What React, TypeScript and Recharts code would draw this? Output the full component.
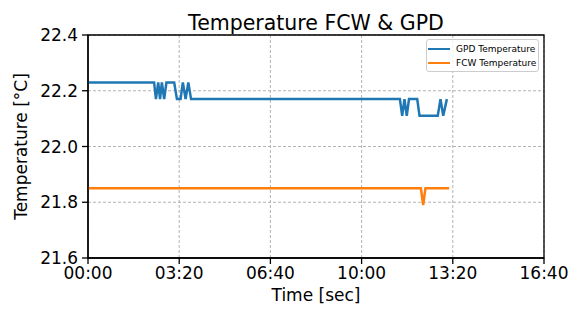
import { CartesianGrid, Line, LineChart, ReferenceArea, XAxis, YAxis } from 'recharts';

// GPD temperature, time in seconds
const gpdTime = [
  0, 145, 149, 154, 158, 162, 167, 172, 189, 195, 203, 208, 214, 220, 226,
  684, 689, 694, 699, 704, 722, 727, 767, 773, 779, 787,
];
const gpdTemp = [
  22.23, 22.23, 22.17, 22.23, 22.17, 22.23, 22.17, 22.23, 22.23, 22.17, 22.17, 22.23, 22.17, 22.23, 22.17,
  22.17, 22.11, 22.17, 22.11, 22.17, 22.17, 22.11, 22.11, 22.17, 22.11, 22.17,
];

// FCW temperature
const fcwTime = [0, 730, 735, 740, 792];
const fcwTemp = [21.85, 21.85, 21.79, 21.85, 21.85];

const xTicks = [0, 200, 400, 600, 800, 1000];
const yTicks = [21.6, 21.8, 22.0, 22.2, 22.4];

const seriesNames = ['GPD Temperature', 'FCW Temperature'];
const seriesColors = ['#1f77b4', '#ff7f0e'];

const gpdData = gpdTime.map((t, i) => ({ t, v: gpdTemp[i] }));
const fcwData = fcwTime.map((t, i) => ({ t, v: fcwTemp[i] }));

const FONT = '"DejaVu Sans", sans-serif';

function formatTime(s: number): string {
  const m = Math.floor(s / 60);
  const sec = Math.round(s % 60);
  return `${String(m).padStart(2, '0')}:${String(sec).padStart(2, '0')}`;
}

export default function App() {
  return (
    <div style={{ position: 'relative', width: 577, height: 311, fontFamily: FONT }}>
      <style>{'body{margin:0}'}</style>
      <LineChart width={577} height={311} margin={{ top: 35, right: 33, bottom: 0, left: 0 }}>
        <CartesianGrid stroke="#aaa" strokeDasharray="3 2" strokeWidth={0.9} />
        <XAxis
          dataKey="t"
          type="number"
          domain={[0, 1000]}
          ticks={xTicks}
          tickFormatter={formatTime}
          allowDataOverflow
          height={53}
          stroke="#000"
          strokeWidth={1.3}
          tickSize={6}
          tickMargin={3}
          tick={{ fill: '#000', fontSize: 17, fontFamily: FONT }}
          label={{ value: 'Time [sec]', position: 'insideBottom', offset: 10, fill: '#000', fontSize: 17, fontFamily: FONT }}
        />
        <YAxis
          type="number"
          domain={[21.6, 22.4]}
          ticks={yTicks}
          tickFormatter={(v: number) => v.toFixed(1)}
          allowDataOverflow
          width={88}
          stroke="#000"
          strokeWidth={1.3}
          tickSize={6}
          tickMargin={4}
          tick={{ fill: '#000', fontSize: 17, fontFamily: FONT }}
          label={{
            value: 'Temperature [°C]',
            angle: -90,
            position: 'insideLeft',
            offset: 21,
            fill: '#000',
            fontSize: 17,
            fontFamily: FONT,
            style: { textAnchor: 'middle' },
          }}
        />
        <ReferenceArea x1={0} x2={1000} y1={21.6} y2={22.4} fill="none" stroke="#000" strokeWidth={1.3} ifOverflow="visible" />
        <Line
          data={gpdData}
          dataKey="v"
          name={seriesNames[0]}
          type="linear"
          stroke={seriesColors[0]}
          strokeWidth={2.5}
          dot={false}
          isAnimationActive={false}
        />
        <Line
          data={fcwData}
          dataKey="v"
          name={seriesNames[1]}
          type="linear"
          stroke={seriesColors[1]}
          strokeWidth={2.5}
          dot={false}
          isAnimationActive={false}
        />
      </LineChart>
      <svg width={577} height={34} style={{ position: 'absolute', left: 0, top: 0 }}>
        <text x={316} y={30} textAnchor="middle" fontSize={20.5} fontFamily={FONT} fill="#000">
          Temperature FCW &amp; GPD
        </text>
      </svg>
      <div
        style={{
          position: 'absolute',
          left: 426,
          top: 39,
          width: 113,
          height: 33,
          boxSizing: 'border-box',
          border: '1px solid #ccc',
          borderRadius: 3,
          background: 'rgba(255,255,255,0.8)',
        }}
      >
        {seriesNames.map((name, i) => (
          <div
            key={name}
            style={{ position: 'absolute', left: 1, top: 3 + i * 14, height: 12, display: 'flex', alignItems: 'center' }}
          >
            <span style={{ display: 'inline-block', width: 22, height: 2.5, background: seriesColors[i] }} />
            <span style={{ marginLeft: 6, fontSize: 9, color: '#000', whiteSpace: 'nowrap' }}>{name}</span>
          </div>
        ))}
      </div>
    </div>
  );
}
